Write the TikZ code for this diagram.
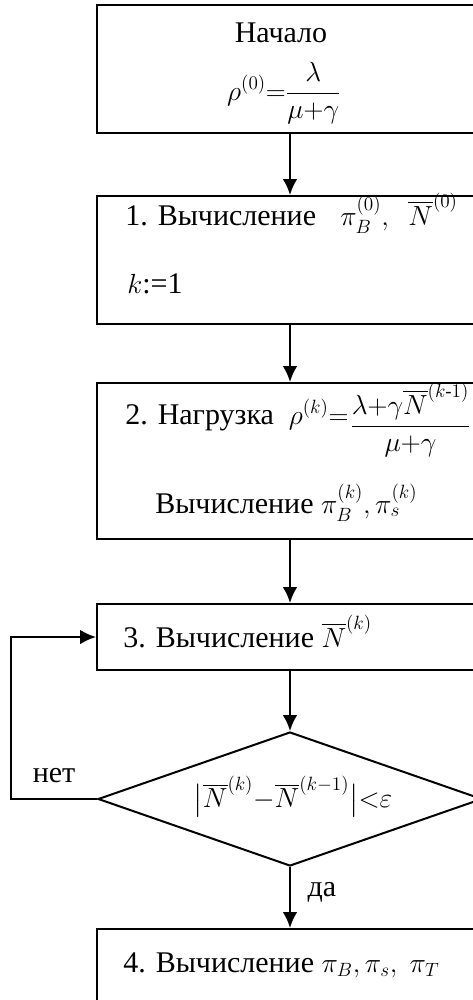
\documentclass[tikz,border=0pt]{standalone}
\usepackage{amsmath}
\usepackage{fontspec}
\setmainfont{Liberation Serif}
\usetikzlibrary{shapes.geometric,arrows.meta}
\begin{document}
\begin{tikzpicture}[x=0.75pt,y=-0.75pt,
  box/.style={draw,line width=1.5pt,rectangle,minimum width=289.5pt,inner sep=0pt},
  dia/.style={draw,line width=1.5pt,diamond,minimum width=288pt,minimum height=100.5pt,inner sep=0pt},
  arr/.style={line width=1.5pt,-{Latex[length=12pt,width=11pt]}},
  txt/.style={inner sep=0pt,font=\fontsize{22.5}{27}\selectfont},
  txtsm/.style={inner sep=0pt,font=\fontsize{20}{24}\selectfont},
]
\useasboundingbox (0,0) rectangle (473,1000);
\clip (0,0) rectangle (473,1000);

% boxes
\node[box,minimum height=96pt] (b0) at (290,69) {};
\node[box,minimum height=96pt] (b1) at (290,260) {};
\node[box,minimum height=117pt] (b2) at (290,461) {};
\node[box,minimum height=49.5pt] (b3) at (290,637) {};
\node[dia] (d) at (290,799) {};
\node[box,minimum height=60.75pt] (b4) at (290,969.5) {};

% texts
\node[txt] (t0a) at (281,33) {Начало};
\node[txt,anchor=base] (t0b) at (284,100) {$\rho^{(0)}{=}\dfrac{\lambda}{\mu{+}\gamma}$};

\node[txt,anchor=base west] (t1a) at (125,225) {1. Вычисление};
\node[txt,anchor=base west] (t1b) at (340,225) {$\pi_{B}^{(0)},\enspace\overline{N}^{(0)}$};
\node[txt,anchor=base west] (t1c) at (127,293) {$k$:=1};

\node[txt,anchor=base west] (t2a) at (125,424) {2. Нагрузка\enspace$\rho^{(k)}{=}$};
\node[txtsm,anchor=base west] (t2c) at (350,433) {$\dfrac{\lambda{+}\gamma\overline{N}^{(k\text{-}1)}}{\mu{+}\gamma}$};
\node[txt,anchor=base west] (t2b) at (155,513) {Вычисление $\pi_{B}^{(k)}, \pi_{s}^{(k)}$};

\node[txt,anchor=base west] (t3) at (123,647) {3. Вычисление $\overline{N}^{(k)}$};

\node[txtsm] (t5) at (293,797) {$\bigl|\overline{N}^{(k)}{-}\overline{N}^{(k-1)}\bigr|{<}\varepsilon$};

\node[txt,anchor=base west] (t4) at (123,972) {4. Вычисление $\pi_{B}, \pi_{s},\;\pi_{T}$};

\node[txt] (no) at (54,776) {нет};
\node[txt] (yes) at (322,892) {да};

% connectors
\draw[arr] (b0.south) -- (b1.north);
\draw[arr] (b1.south) -- (b2.north);
\draw[arr] (b2.south) -- (b3.north);
\draw[arr] (b3.south) -- (d.north);
\draw[arr] (d.south) -- (b4.north);
\draw[arr] (d.west) -- ++(-86,0) coordinate (c1) |- (b3.west);
\end{tikzpicture}
\end{document}
